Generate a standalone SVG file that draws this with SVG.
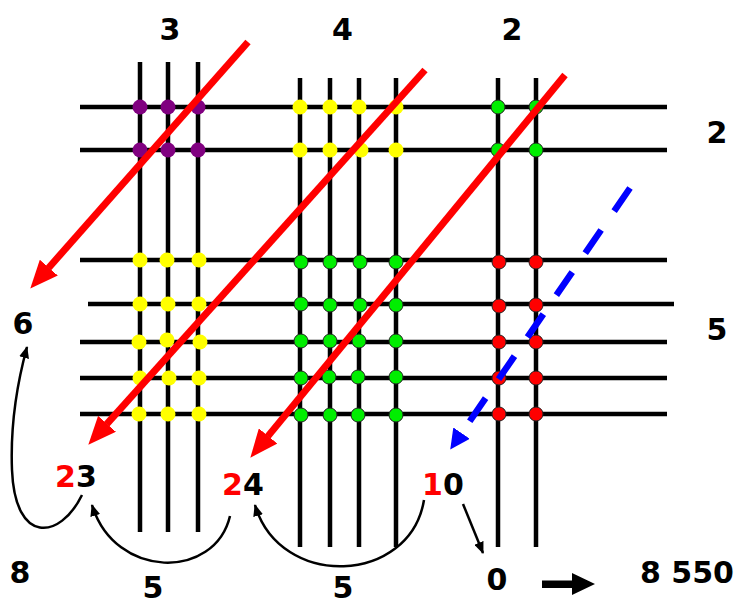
<svg xmlns="http://www.w3.org/2000/svg" width="740" height="606" viewBox="0 0 740 606">
<defs>
<style>
.g{stroke:#000;stroke-width:4.5;fill:none}
.p{fill:#800080}
.y{fill:#ffff00}
.gr{fill:#00ee00;stroke:#222;stroke-width:1}
.r{fill:#ff0000;stroke:#222;stroke-width:1}
.t{font-family:"DejaVu Sans",sans-serif;font-weight:bold;font-size:30px;fill:#000}
.red{fill:#ff0000}
.ra{stroke:#ff0000;stroke-width:7;fill:none}
.ba{stroke:#000;stroke-width:2.5;fill:none}
</style>
<marker id="mr" viewBox="0 0 28 24" refX="0.5" refY="12" markerWidth="28" markerHeight="24" markerUnits="userSpaceOnUse" orient="auto"><path d="M0,0 L28,12 L0,24 Z" fill="#ff0000"/></marker>
<marker id="mb" viewBox="0 0 20 20" refX="0.5" refY="10" markerWidth="20" markerHeight="20" markerUnits="userSpaceOnUse" orient="auto"><path d="M0,0 L20,10 L0,20 Z" fill="#0000ff"/></marker>
<marker id="mk" viewBox="0 0 12 10" refX="11" refY="5" markerWidth="12" markerHeight="10" markerUnits="userSpaceOnUse" orient="auto"><path d="M0,0 L12,5 L0,10 Z" fill="#000"/></marker>
</defs>
<rect width="740" height="606" fill="#fff"/>
<g id="grid">
<path class="g" d="M80,107H667M80,150H667M80,260H667M88,304H674M80,342H667M80,378H667M80,414H667"/>
<path class="g" d="M140,62V532M168,62V532M198,62V532M300,78V547M330,78V547M359,78V547M396,78V547M498,78V547M536,78V547"/>
</g>
<g id="dots-purple">
<circle class="p" cx="140" cy="107" r="7.5"/><circle class="p" cx="168" cy="107" r="7.5"/><circle class="p" cx="198" cy="107" r="7.5"/>
<circle class="p" cx="140" cy="150" r="7.5"/><circle class="p" cx="168" cy="150" r="7.5"/><circle class="p" cx="198" cy="150" r="7.5"/>
</g>
<g id="dots-yellow-top">
<circle class="y" cx="300" cy="107" r="7.5"/><circle class="y" cx="330" cy="107" r="7.5"/><circle class="y" cx="359" cy="107" r="7.5"/><circle class="y" cx="396" cy="107" r="7.5"/>
<circle class="y" cx="300" cy="150" r="7.5"/><circle class="y" cx="330" cy="150" r="7.5"/><circle class="y" cx="361" cy="150" r="7.5"/><circle class="y" cx="396" cy="150" r="7.5"/>
</g>
<g id="dots-green-top">
<circle class="gr" cx="498" cy="107" r="7"/><circle class="gr" cx="536" cy="107" r="7"/>
<circle class="gr" cx="498" cy="150" r="7"/><circle class="gr" cx="536" cy="150" r="7"/>
</g>
<g id="dots-yellow-bottom">
<circle class="y" cx="140" cy="260" r="7.5"/><circle class="y" cx="167" cy="260" r="7.5"/><circle class="y" cx="199" cy="260" r="7.5"/>
<circle class="y" cx="140" cy="304" r="7.5"/><circle class="y" cx="168" cy="304" r="7.5"/><circle class="y" cx="199" cy="304" r="7.5"/>
<circle class="y" cx="139" cy="342" r="7.5"/><circle class="y" cx="167" cy="340" r="7.5"/><circle class="y" cx="200" cy="342" r="7.5"/>
<circle class="y" cx="140" cy="378" r="7.5"/><circle class="y" cx="169" cy="378" r="7.5"/><circle class="y" cx="199" cy="378" r="7.5"/>
<circle class="y" cx="139" cy="414" r="7.5"/><circle class="y" cx="168" cy="414" r="7.5"/><circle class="y" cx="199" cy="414" r="7.5"/>
</g>
<g id="dots-green-bottom">
<circle class="gr" cx="301" cy="262" r="7"/><circle class="gr" cx="330" cy="262" r="7"/><circle class="gr" cx="360" cy="262" r="7"/><circle class="gr" cx="396" cy="262" r="7"/>
<circle class="gr" cx="301" cy="304" r="7"/><circle class="gr" cx="330" cy="305" r="7"/><circle class="gr" cx="360" cy="305" r="7"/><circle class="gr" cx="396" cy="305" r="7"/>
<circle class="gr" cx="301" cy="341" r="7"/><circle class="gr" cx="330" cy="341" r="7"/><circle class="gr" cx="359" cy="341" r="7"/><circle class="gr" cx="396" cy="341" r="7"/>
<circle class="gr" cx="301" cy="378" r="7"/><circle class="gr" cx="329" cy="377" r="7"/><circle class="gr" cx="358" cy="377" r="7"/><circle class="gr" cx="396" cy="377" r="7"/>
<circle class="gr" cx="301" cy="415" r="7"/><circle class="gr" cx="330" cy="415" r="7"/><circle class="gr" cx="358" cy="415" r="7"/><circle class="gr" cx="396" cy="415" r="7"/>
</g>
<g id="dots-red">
<circle class="r" cx="499" cy="262" r="7"/><circle class="r" cx="536" cy="262" r="7"/>
<circle class="r" cx="499" cy="306" r="7"/><circle class="r" cx="536" cy="305" r="7"/>
<circle class="r" cx="499" cy="342" r="7"/><circle class="r" cx="536" cy="342" r="7"/>
<circle class="r" cx="499" cy="378" r="7"/><circle class="r" cx="536" cy="378" r="7"/>
<circle class="r" cx="499" cy="414" r="7"/><circle class="r" cx="536" cy="414" r="7"/>
</g>
<g id="connectors">
<path class="ra" d="M248,42 L48.5,268" marker-end="url(#mr)"/>
<path class="ra" d="M425,70 L106.7,424.2" marker-end="url(#mr)"/>
<path class="ra" d="M565,75 L267.8,436.4" marker-end="url(#mr)"/>
<path d="M630,188 L461.3,433.5" stroke="#0000ff" stroke-width="6.5" fill="none" stroke-dasharray="28 23" marker-end="url(#mb)"/>
<path class="ba" d="M82,495 C60,540 15,545 12,470 C10,420 18,380 27,347" marker-end="url(#mk)"/>
<path class="ba" d="M230,516 C215,580 115,580 92,505" marker-end="url(#mk)"/>
<path class="ba" d="M424,500 C410,585 280,590 255,505" marker-end="url(#mk)"/>
<path class="ba" d="M463,504 L483,553" marker-end="url(#mk)"/>
<path d="M542,580.5 H572 V573 L595,584 L572,595 V588 H542 Z" fill="#000"/>
</g>
<g id="labels">
<text class="t" x="170" y="40" text-anchor="middle">3</text>
<text class="t" x="342.5" y="40" text-anchor="middle">4</text>
<text class="t" x="512" y="40" text-anchor="middle">2</text>
<text class="t" x="717" y="143" text-anchor="middle">2</text>
<text class="t" x="717" y="340" text-anchor="middle">5</text>
<text class="t" x="23" y="334" text-anchor="middle">6</text>
<text class="t" x="55" y="487"><tspan class="red">2</tspan>3</text>
<text class="t" x="222" y="495"><tspan class="red">2</tspan>4</text>
<text class="t" x="422" y="495"><tspan class="red">1</tspan>0</text>
<text class="t" x="20" y="583" text-anchor="middle">8</text>
<text class="t" x="153" y="598" text-anchor="middle">5</text>
<text class="t" x="343" y="598" text-anchor="middle">5</text>
<text class="t" x="497" y="590" text-anchor="middle">0</text>
<text class="t" x="640" y="583">8 550</text>
</g>
</svg>
